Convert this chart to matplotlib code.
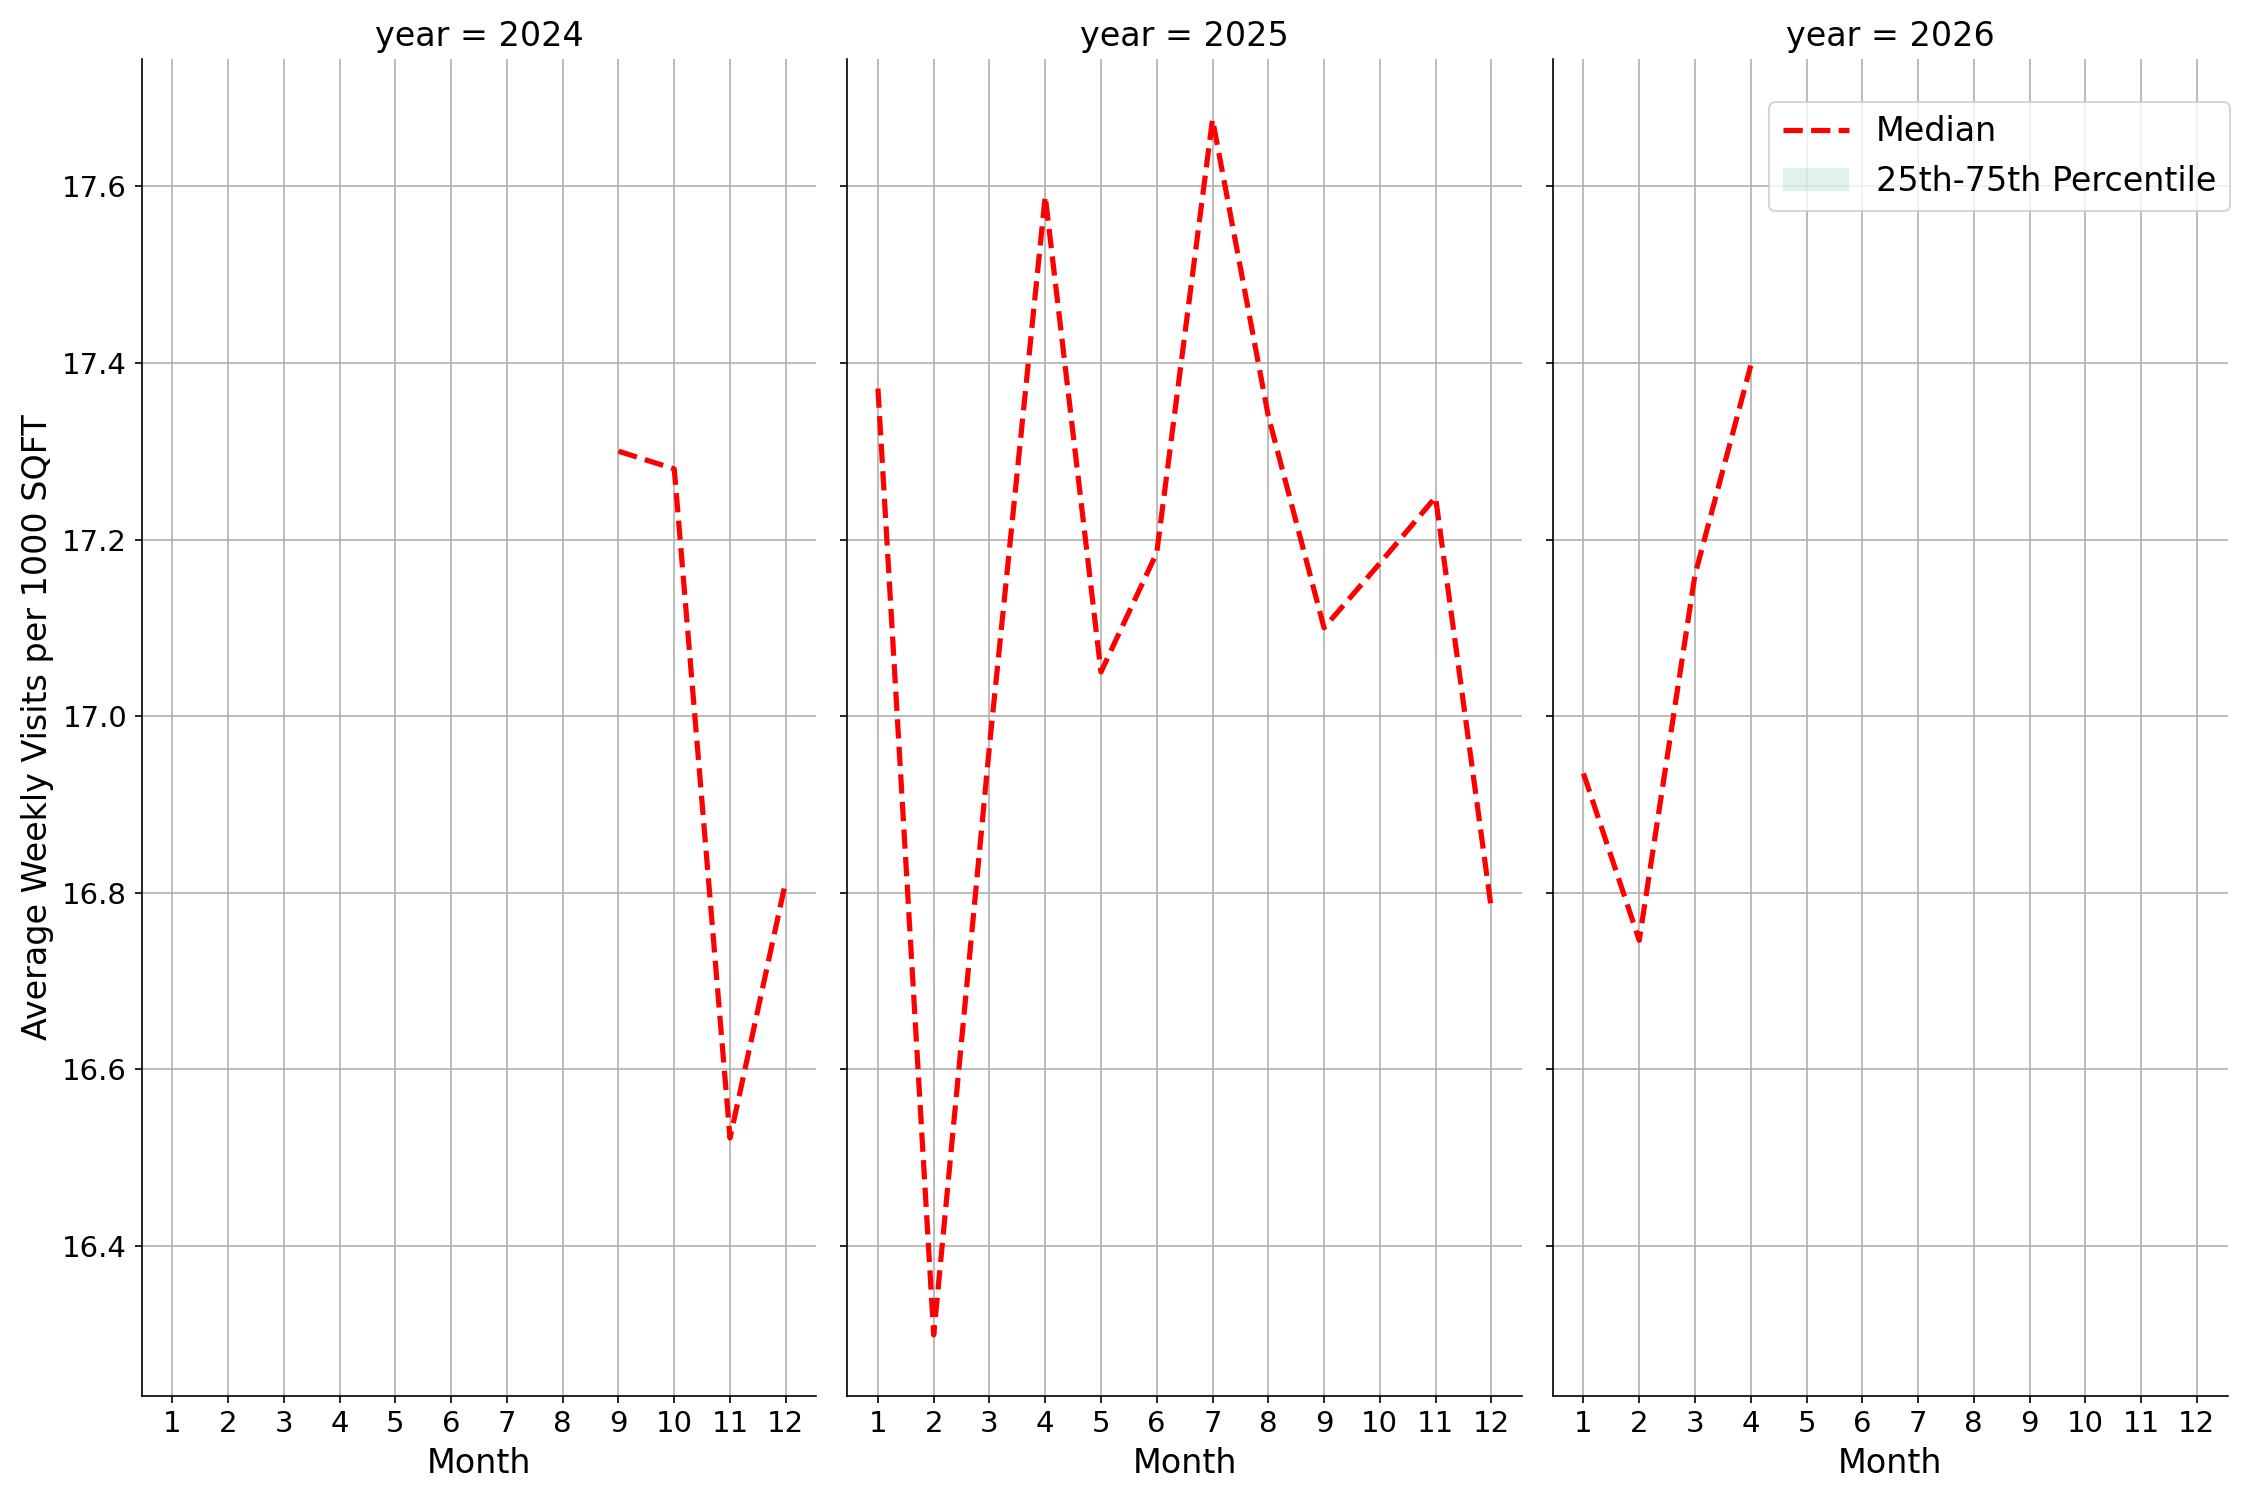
import matplotlib
matplotlib.use("Agg")
import matplotlib.pyplot as plt

years = [2024, 2025, 2026]
months_2024 = [9, 10, 11, 12]
median_2024 = [17.300, 17.280, 16.522, 16.813]
months_2025 = [1, 2, 3, 4, 5, 6, 7, 8, 9, 10, 11, 12]
median_2025 = [17.371, 16.299, 16.966, 17.589, 17.050, 17.185, 17.676, 17.340, 17.100, 17.173, 17.248, 16.782]
months_2026 = [1, 2, 3, 4]
median_2026 = [16.935, 16.746, 17.160, 17.397]
month_ticks = [1, 2, 3, 4, 5, 6, 7, 8, 9, 10, 11, 12]

series = {
    2024: (months_2024, median_2024),
    2025: (months_2025, median_2025),
    2026: (months_2026, median_2026),
}

fig, axes = plt.subplots(1, 3, figsize=(15, 10), dpi=150, sharex=True, sharey=True)
fig.subplots_adjust(left=0.063, right=0.990, top=0.961, bottom=0.0695, wspace=0.0457)

for ax, yr in zip(axes, years):
    m, v = series[yr]
    ax.plot(m, v, color="red", linestyle="--", linewidth=2.5, label="Median")
    ax.fill_between([], [], [], color="#66c2a5", alpha=0.2, linewidth=0,
                    label="25th-75th Percentile")
    ax.set_title(f"year = {yr}", fontsize=16)
    ax.set_xlabel("Month", fontsize=16)
    ax.set_xticks(month_ticks)
    ax.tick_params(axis="both", labelsize=14)
    ax.grid(True, color="#b0b0b0", linewidth=0.8)
    ax.set_axisbelow(True)
    for s in ("top", "right"):
        ax.spines[s].set_visible(False)

axes[0].set_ylabel("Average Weekly Visits per 1000 SQFT", fontsize=16)

handles, labels = axes[2].get_legend_handles_labels()
axes[2].legend(handles, labels, loc="upper right", bbox_to_anchor=(0.991, 0.932),
               bbox_transform=fig.transFigure, borderaxespad=0, fontsize=16)

fig.savefig("out.png", dpi=150)
